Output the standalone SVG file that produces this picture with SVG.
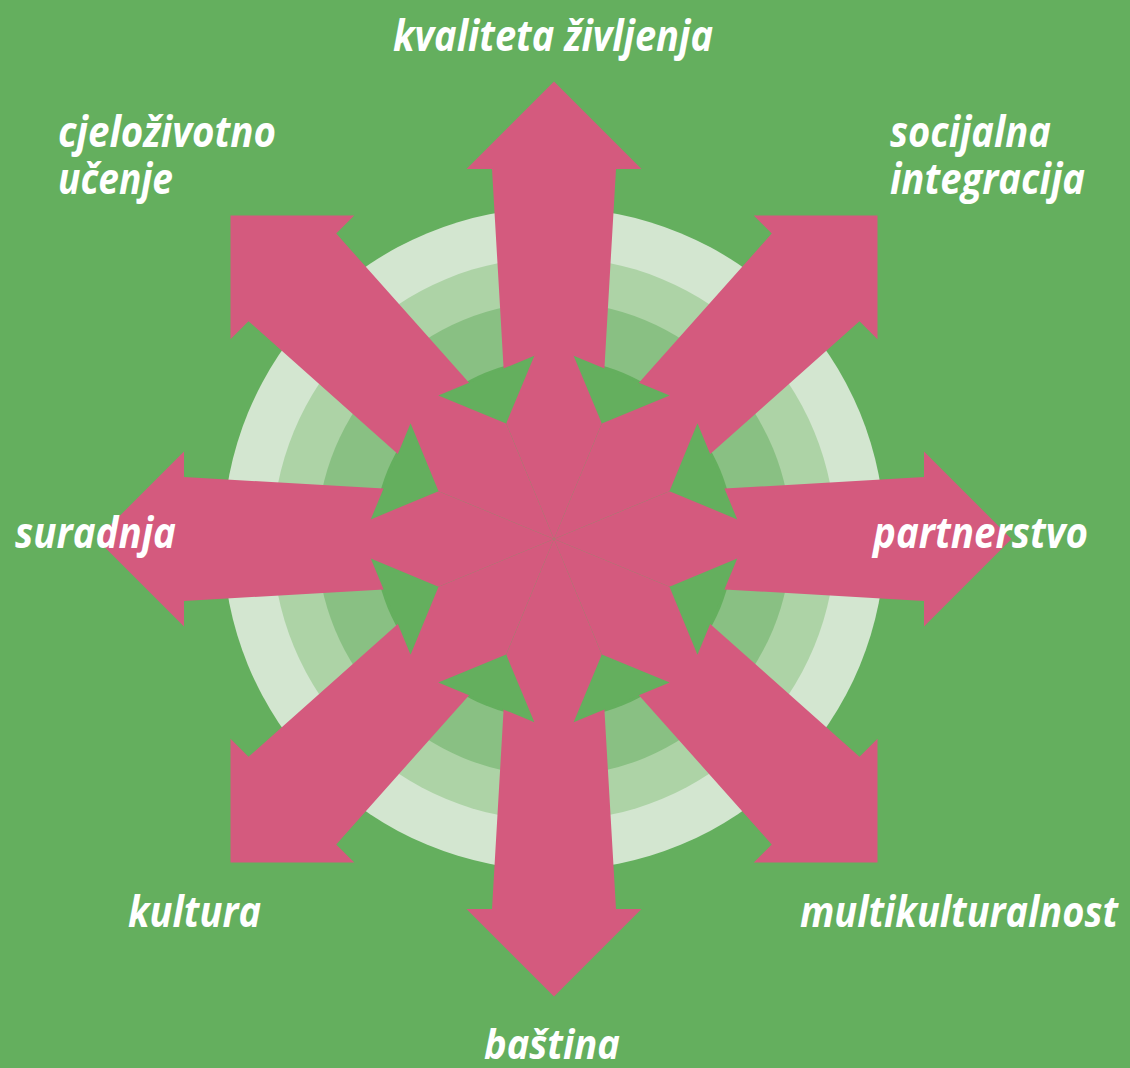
<svg xmlns="http://www.w3.org/2000/svg" xmlns:xlink="http://www.w3.org/1999/xlink" width="1130" height="1068" viewBox="0 0 1130 1068">
  <style>
    .lbl { font-family: "Open Sans", "Noto Sans", "DejaVu Sans", sans-serif; font-weight: 700; font-style: italic; font-size: 43px; fill: #FFFFFF; }
    .arrow { fill: #D45A7E; }
    .gap { fill: #64AF5E; }
  </style>
  <defs>
    <polygon id="arrowShape" points="0,0 -47.8,-115.5 -50.4,-170.5 -62,-370 -87.5,-370 0,-457.5 87.5,-370 62,-370 50.4,-170.5 47.8,-115.5"/>
    <polygon id="gapShape" points="0,-125 -52,-176.8 52,-176.8"/>
  </defs>
  <rect x="0" y="0" width="1130" height="1068" fill="#64AF5E"/>
  <g id="rings">
    <circle cx="554" cy="539" r="331" fill="#D3E6D0"/>
    <circle cx="554" cy="539" r="281.5" fill="#ADD3A6"/>
    <circle cx="554" cy="539" r="237" fill="#89C083"/>
    <circle cx="554" cy="539" r="180" fill="#64AF5E"/>
  </g>
  <g id="connectors" transform="translate(554,539)">
    <g id="arrow-kvaliteta"><use xlink:href="#arrowShape" href="#arrowShape" class="arrow" transform="rotate(0)"/></g>
    <g id="arrow-socijalna"><use xlink:href="#arrowShape" href="#arrowShape" class="arrow" transform="rotate(45)"/></g>
    <g id="arrow-partnerstvo"><use xlink:href="#arrowShape" href="#arrowShape" class="arrow" transform="rotate(90)"/></g>
    <g id="arrow-multikulturalnost"><use xlink:href="#arrowShape" href="#arrowShape" class="arrow" transform="rotate(135)"/></g>
    <g id="arrow-bastina"><use xlink:href="#arrowShape" href="#arrowShape" class="arrow" transform="rotate(180)"/></g>
    <g id="arrow-kultura"><use xlink:href="#arrowShape" href="#arrowShape" class="arrow" transform="rotate(225)"/></g>
    <g id="arrow-suradnja"><use xlink:href="#arrowShape" href="#arrowShape" class="arrow" transform="rotate(270)"/></g>
    <g id="arrow-cjelozivotno"><use xlink:href="#arrowShape" href="#arrowShape" class="arrow" transform="rotate(315)"/></g>
    <g id="gaps">
      <use xlink:href="#gapShape" href="#gapShape" class="gap" transform="rotate(22.5)"/>
      <use xlink:href="#gapShape" href="#gapShape" class="gap" transform="rotate(67.5)"/>
      <use xlink:href="#gapShape" href="#gapShape" class="gap" transform="rotate(112.5)"/>
      <use xlink:href="#gapShape" href="#gapShape" class="gap" transform="rotate(157.5)"/>
      <use xlink:href="#gapShape" href="#gapShape" class="gap" transform="rotate(202.5)"/>
      <use xlink:href="#gapShape" href="#gapShape" class="gap" transform="rotate(247.5)"/>
      <use xlink:href="#gapShape" href="#gapShape" class="gap" transform="rotate(292.5)"/>
      <use xlink:href="#gapShape" href="#gapShape" class="gap" transform="rotate(337.5)"/>
    </g>
  </g>
  <g id="node-kvaliteta"><text class="lbl" x="393" y="51" textLength="320" lengthAdjust="spacingAndGlyphs">kvaliteta življenja</text></g>
  <g id="node-cjelozivotno">
    <text class="lbl" x="58" y="147" textLength="218" lengthAdjust="spacingAndGlyphs">cjeloživotno</text>
    <text class="lbl" x="58" y="194" textLength="115" lengthAdjust="spacingAndGlyphs">učenje</text>
  </g>
  <g id="node-socijalna">
    <text class="lbl" x="890" y="147" textLength="161" lengthAdjust="spacingAndGlyphs">socijalna</text>
    <text class="lbl" x="890" y="194" textLength="195" lengthAdjust="spacingAndGlyphs">integracija</text>
  </g>
  <g id="node-suradnja"><text class="lbl" x="15" y="548" textLength="161" lengthAdjust="spacingAndGlyphs">suradnja</text></g>
  <g id="node-partnerstvo"><text class="lbl" x="873" y="548" textLength="215" lengthAdjust="spacingAndGlyphs">partnerstvo</text></g>
  <g id="node-kultura"><text class="lbl" x="128" y="927" textLength="133" lengthAdjust="spacingAndGlyphs">kultura</text></g>
  <g id="node-multikulturalnost"><text class="lbl" x="800" y="927" textLength="318" lengthAdjust="spacingAndGlyphs">multikulturalnost</text></g>
  <g id="node-bastina"><text class="lbl" x="484" y="1059" textLength="136" lengthAdjust="spacingAndGlyphs" style="font-size:41px">baština</text></g>
</svg>
